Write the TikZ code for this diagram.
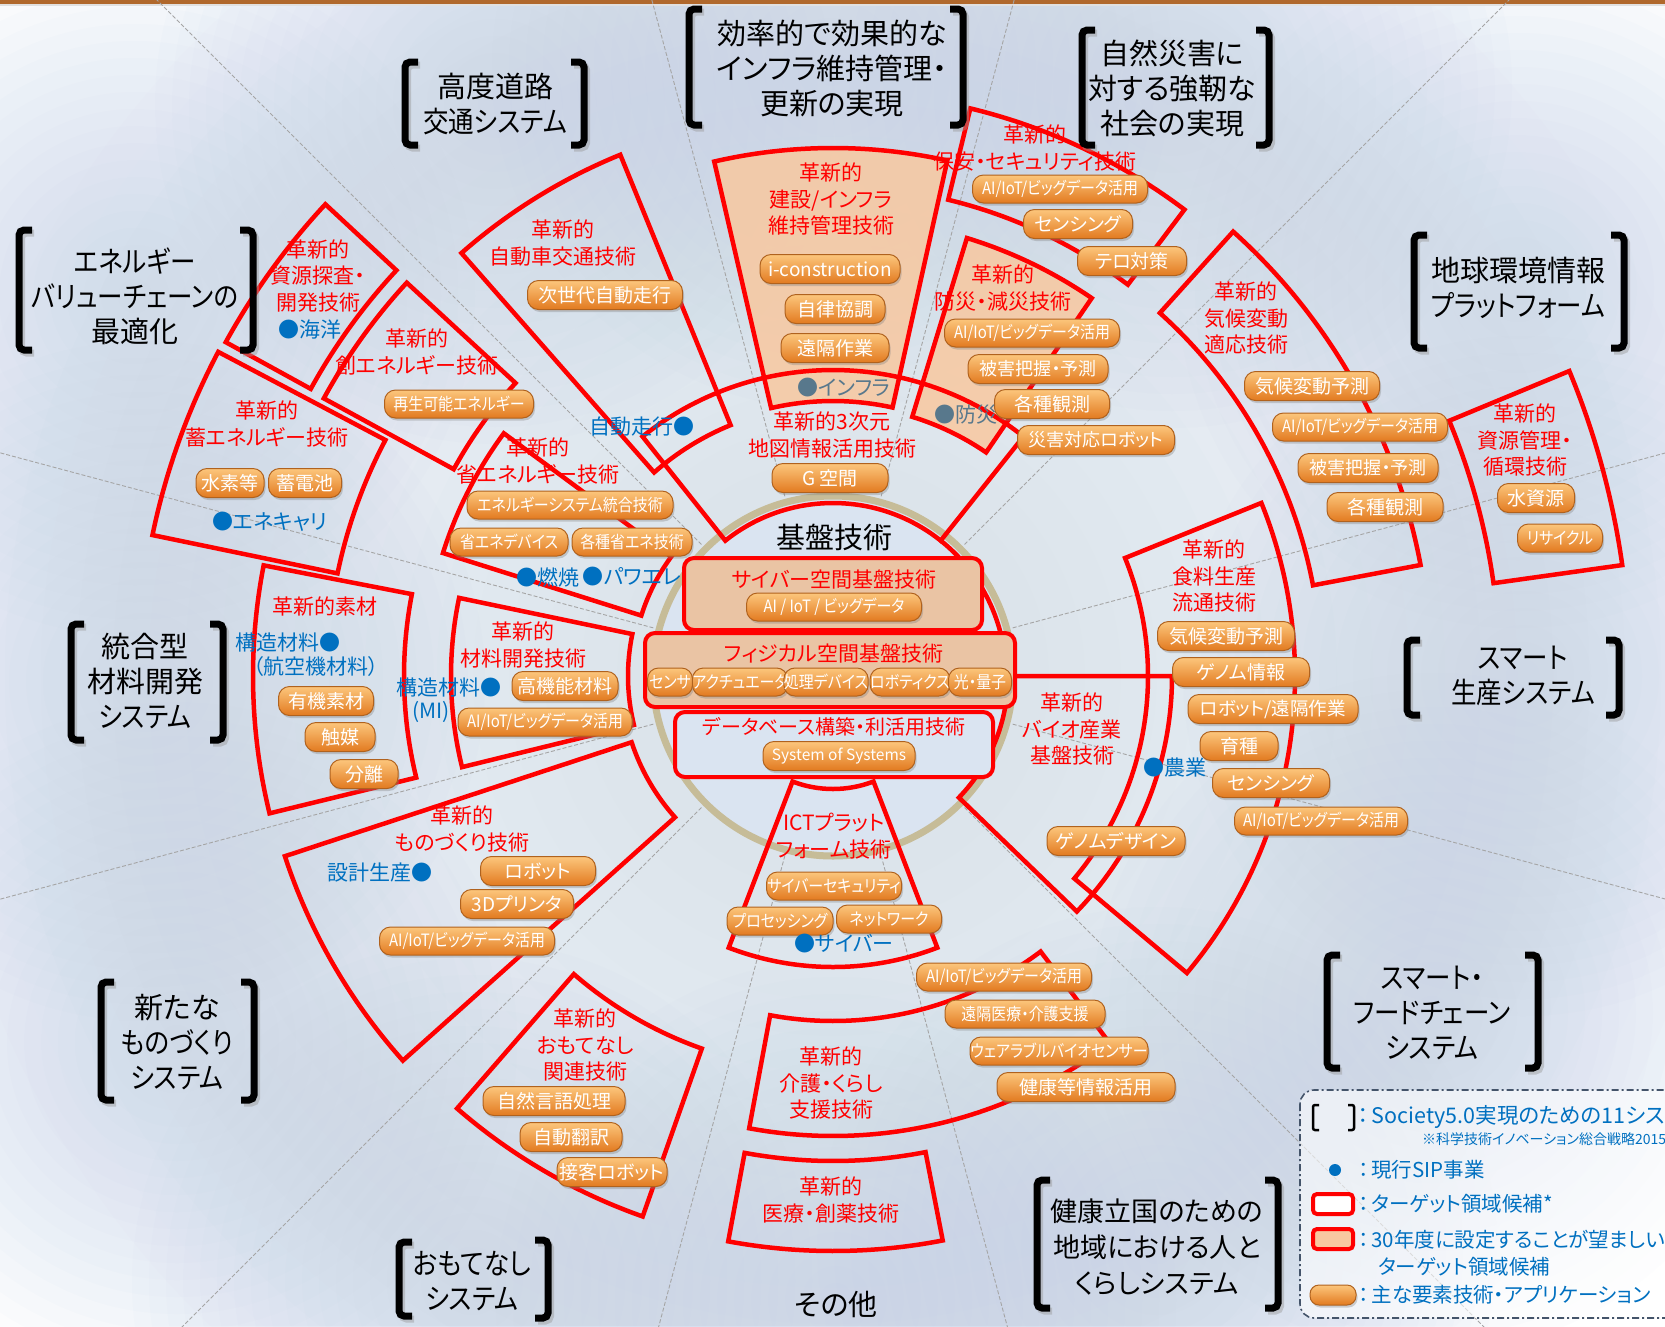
\documentclass[tikz,border=0pt]{standalone}
\usepackage{fontspec}
\setmainfont[RawFeature=+palt]{Noto Sans CJK JP}
\newfontfamily\cjkn[RawFeature=+palt,FakeStretch=0.88]{Noto Sans CJK JP}
\usetikzlibrary{shadows}

\definecolor{sred}{RGB}{255,0,0}
\definecolor{sblue}{RGB}{0,112,192}
\definecolor{glowc}{RGB}{190,206,230}
\definecolor{ringtan}{RGB}{198,188,152}
\definecolor{coreblue}{RGB}{218,228,241}
\definecolor{beigef}{RGB}{248,200,160}
\definecolor{boxbeige}{RGB}{234,196,164}
\definecolor{pilltop}{RGB}{252,198,124}
\definecolor{pillbot}{RGB}{226,122,32}
\definecolor{pillborder}{RGB}{176,98,30}
\definecolor{slate}{RGB}{88,120,140}
\definecolor{topbar}{RGB}{176,104,44}
\definecolor{dashgrey}{RGB}{165,165,165}
\definecolor{legline}{RGB}{68,84,106}

\tikzset{
  redline/.style={draw=sred, line width=4.5pt, line join=miter},
  pill/.style={rounded corners=11pt, draw=pillborder, line width=1pt,
     top color=pilltop, bottom color=pillbot, text=white,
     minimum height=29pt, inner sep=0pt,
     font=\fontsize{19}{19}\selectfont,
     drop shadow={shadow xshift=1.5pt, shadow yshift=-2.5pt, opacity=0.35}},
  spill/.style={pill, font=\cjkn\fontsize{17}{17}\selectfont, minimum height=28pt},
  rl/.style={text=sred, align=center, inner sep=0pt, font=\fontsize{21}{26.5}\selectfont},
  bl/.style={text=sblue, inner sep=0pt, font=\fontsize{21}{26}\selectfont},
  sl/.style={text=slate, inner sep=0pt, font=\fontsize{21}{26}\selectfont},
  sys/.style={align=center, inner sep=0pt, font=\fontsize{29}{35}\selectfont},
  brk/.style={draw=black, line width=7pt, rounded corners=5pt, line cap=butt},
  dashray/.style={draw=dashgrey, line width=0.9pt, dash pattern=on 4pt off 2pt},
  cbox/.style={draw=sred, line width=4pt, rounded corners=10pt},
  lt/.style={text=sblue, anchor=west, inner sep=0pt, font=\fontsize{20.5}{24}\selectfont},
}

\newcommand\annsec[5][]{\draw[shift={(833,676)},#1] (#2:#4) arc[start angle=#2, end angle=#3, radius=#4] -- (#3:#5) arc[start angle=#3, end angle=#2, radius=#5] -- cycle;}
\newcommand\sysLB[3]{%
  \draw[brk, draw=black!40, opacity=0.45] ({#1+15},{#2+3}) -- ({#1+2.5},{#2+3}) -- ({#1+2.5},{#3+3}) -- ({#1+15},{#3+3});
  \draw[brk] ({#1+13},#2) -- (#1,#2) -- (#1,#3) -- ({#1+13},#3);}
\newcommand\sysRB[3]{%
  \draw[brk, draw=black!40, opacity=0.45] ({#1-10},{#2+3}) -- ({#1+2.5},{#2+3}) -- ({#1+2.5},{#3+3}) -- ({#1-10},{#3+3});
  \draw[brk] ({#1-13},#2) -- (#1,#2) -- (#1,#3) -- ({#1-13},#3);}
\newcommand\softglow[3]{\foreach \k in {1,...,20} \fill[glowc, fill opacity=#3] #1 circle ({#2*\k/20});}

\begin{document}
\begin{tikzpicture}[x=1pt,y=-1pt]
\useasboundingbox (0,0) rectangle (1665,1326);
\clip (0,0) rectangle (1665,1326);
\fill[white] (0,0) rectangle (1665,1326);

% background glows (stacked translucent discs)
\foreach \k in {1,...,25} \fill[glowc, fill opacity=0.028] (833,676) circle ({36*\k});
\foreach \p in {(495,104),(832,69),(1172,88),(1518,288),(1523,676),(1432,1013),(1157,1247),(836,1300),(472,1281),(177,1042),(145,681),(135,296)}
  {\softglow{\p}{340}{0.045}}

% top bar
\fill[topbar] (0,0) rectangle (1665,3.5);
\fill[black!12] (0,3.5) rectangle (1665,6);

% radial dashed rays
\foreach \a in {15,45,...,345} \draw[dashray, shift={(833,676)}] (\a:186) -- (\a:1300);

% base circle
\draw[ringtan, line width=7pt, fill=coreblue] (833,676) circle (180);

% translucent fills
\annsec[fill=beigef, fill opacity=0.85, draw=none]{257}{282.5}{275}{528}
\annsec[fill=beigef, fill opacity=0.85, draw=none]{287}{304.4}{271}{458}

% red sector outlines
\annsec[redline]{208.8}{222.9}{596}{693}
\annsec[redline]{208.6}{222.7}{432}{580}
\annsec[redline]{191.7}{207.8}{506}{695}
\annsec[redline]{197.5}{216.4}{201}{409}
\annsec[redline]{228.7}{247.8}{271}{563}
\annsec[redline]{257}{282.5}{275}{528}
\annsec[redline]{231.5}{308.5}{173}{306}
\annsec[redline]{283.6}{307}{490}{584}
\annsec[redline]{287}{304.4}{271}{458}
\annsec[redline]{312}{349.3}{488.5}{598}
\annsec[redline]{337.5}{352}{667}{797}
\annsec[redline]{338}{400}{315}{462}
\annsec[redline]{0}{44}{175}{339}
\annsec[redline]{53}{100.5}{345}{460}
\annsec[redline]{79}{100.5}{485}{575}
\annsec[redline]{109.4}{131}{395}{573}
\annsec[redline]{138.2}{161.8}{212}{577}
\annsec[redline]{166.3}{191}{429}{580}
\annsec[redline]{166.2}{191.8}{205}{382}
\annsec[redline]{69}{111}{113}{291}
\draw[redline, shift={(833,676)}] (308.5:173) arc[start angle=308.5, end angle=360, radius=173];

% centre boxes
\node[sys] (kiban) at (834,537) {基盤技術};
\draw[cbox, fill=boxbeige] (684,558) rectangle (982,630);
\draw[cbox, fill=boxbeige] (645,633) rectangle (1015,707);
\draw[cbox, fill=coreblue] (675,712) rectangle (993,777);
\node[rl] (cyb) at (834,579) {サイバー空間基盤技術};
\node[rl] (phy) at (834,653) {フィジカル空間基盤技術};
\node[rl, font=\fontsize{20}{24}\selectfont] (dbt) at (834,727) {データベース構築・利活用技術};
\node[spill, minimum width=175pt] (pX1) at (834,607) {AI / IoT / ビッグデータ};
\node[spill, minimum width=45pt] (pX2) at (670,682) {センサ};
\node[spill, minimum width=85pt] (pX3) at (740,682) {アクチュエータ};
\node[spill, minimum width=83pt] (pX4) at (826,682) {処理デバイス};
\node[spill, minimum width=74pt] (pX5) at (910,682) {ロボティクス};
\node[spill, minimum width=63pt] (pX6) at (980,682) {光・量子};
\node[pill, minimum width=152pt, font=\fontsize{15.5}{15.5}\selectfont] (pX7) at (839,756) {System of Systems};

% pills
\node[spill, minimum width=149pt] (pB1) at (459,404) {再生可能エネルギー};
\node[pill, minimum width=68pt] (pC1) at (230,483) {水素等};
\node[pill, minimum width=73pt] (pC2) at (305,483) {蓄電池};
\node[spill, minimum width=206pt] (pD1) at (570,505) {エネルギーシステム統合技術};
\node[spill, minimum width=118pt] (pD2) at (509,542) {省エネデバイス};
\node[spill, minimum width=120pt] (pD3) at (632,542) {各種省エネ技術};
\node[pill, minimum width=155pt] (pE1) at (605,295) {次世代自動走行};
\node[pill, minimum width=140pt] (pF1) at (830,269) {i-construction};
\node[pill, minimum width=100pt] (pF2) at (835,309) {自律協調};
\node[pill, minimum width=108pt] (pF3) at (835,348) {遠隔作業};
\node[pill, minimum width=116pt] (pG1) at (830,478) {G 空間};
\node[spill, minimum width=175pt] (pH1) at (1060,189) {AI/IoT/ビッグデータ活用};
\node[pill, minimum width=109pt] (pH2) at (1078,224) {センシング};
\node[pill, minimum width=109pt] (pH3) at (1132,261) {テロ対策};
\node[spill, minimum width=175pt] (pI1) at (1032,333) {AI/IoT/ビッグデータ活用};
\node[pill, minimum width=140pt, font=\fontsize{18}{18}\selectfont] (pI2) at (1038,369) {被害把握・予測};
\node[pill, minimum width=115pt] (pI3) at (1052,404) {各種観測};
\node[pill, minimum width=157pt, font=\fontsize{18}{18}\selectfont] (pI4) at (1096,440) {災害対応ロボット};
\node[pill, minimum width=135pt] (pJ1) at (1312,386) {気候変動予測};
\node[spill, minimum width=175pt] (pJ2) at (1360,427) {AI/IoT/ビッグデータ活用};
\node[pill, minimum width=140pt, font=\fontsize{18}{18}\selectfont] (pJ3) at (1368,468) {被害把握・予測};
\node[pill, minimum width=116pt] (pJ4) at (1385,507) {各種観測};
\node[pill, minimum width=77pt] (pK1) at (1536,498) {水資源};
\node[spill, minimum width=85pt] (pK2) at (1560,538) {リサイクル};
\node[pill, minimum width=137pt] (pL1) at (1226,636) {気候変動予測};
\node[pill, minimum width=137pt] (pL2) at (1241,672) {ゲノム情報};
\node[pill, minimum width=170pt, font=\fontsize{18.5}{18.5}\selectfont] (pL3) at (1273,709) {ロボット/遠隔作業};
\node[pill, minimum width=78pt] (pL4) at (1239,746) {育種};
\node[pill, minimum width=117pt] (pL5) at (1271,783) {センシング};
\node[spill, minimum width=173pt] (pL6) at (1321,821) {AI/IoT/ビッグデータ活用};
\node[pill, minimum width=138pt] (pM1) at (1116,841) {ゲノムデザイン};
\node[spill, minimum width=175pt] (pN1) at (1004,977) {AI/IoT/ビッグデータ活用};
\node[spill, minimum width=160pt] (pN2) at (1025,1014) {遠隔医療・介護支援};
\node[spill, minimum width=178pt] (pN3) at (1059,1051) {ウェアラブルバイオセンサー};
\node[pill, minimum width=178pt] (pN4) at (1086,1087) {健康等情報活用};
\node[pill, minimum width=142pt] (pP1) at (554,1101) {自然言語処理};
\node[pill, minimum width=102pt] (pP2) at (571,1137) {自動翻訳};
\node[pill, minimum width=110pt] (pP3) at (612,1172) {接客ロボット};
\node[pill, minimum width=115pt] (pQ1) at (538,871) {ロボット};
\node[pill, minimum width=113pt] (pQ2) at (517,904) {3Dプリンタ};
\node[spill, minimum width=175pt] (pQ3) at (467,941) {AI/IoT/ビッグデータ活用};
\node[pill, minimum width=95pt] (pR1) at (326,701) {有機素材};
\node[pill, minimum width=70pt] (pR2) at (340,737) {触媒};
\node[pill, minimum width=68pt] (pR3) at (364,774) {分離};
\node[pill, minimum width=106pt] (pS1) at (565,686) {高機能材料};
\node[spill, minimum width=174pt] (pS2) at (545,722) {AI/IoT/ビッグデータ活用};
\node[spill, minimum width=135pt] (pT1) at (834,886) {サイバーセキュリティ};
\node[spill, minimum width=106pt] (pT2) at (780,921) {プロセッシング};
\node[spill, minimum width=105pt] (pT3) at (889,919) {ネットワーク};

% red titles and blue marks
\node[rl] (tA) at (318,276) {革新的\\資源探査・\\開発技術};
\node[bl] (bA) at (310,330) {●海洋};
\node[rl] (tB) at (417,352) {革新的\\創エネルギー技術};
\node[rl] (tC) at (267,424) {革新的\\蓄エネルギー技術};
\node[bl] (bC) at (270,522) {●エネキャリ};
\node[rl] (tD) at (538,461) {革新的\\省エネルギー技術};
\node[bl] (bD1) at (548,577) {●燃焼};
\node[bl] (bD2) at (632,577) {●パワエレ};
\node[rl] (tE) at (563,243) {革新的\\自動車交通技術};
\node[bl] (bE) at (642,427) {自動走行●};
\node[rl] (tF) at (831,199) {革新的\\建設/インフラ\\維持管理技術};
\node[sl] (bF) at (844,388) {●インフラ};
\node[rl] (tG) at (832,435) {革新的3次元\\地図情報活用技術};
\node[rl] (tH) at (1035,148) {革新的\\保安・セキュリティ技術};
\node[rl] (tI) at (1003,288) {革新的\\防災・減災技術};
\node[sl] (bI) at (966,415) {●防災};
\node[rl] (tJ) at (1246,318) {革新的\\気候変動\\適応技術};
\node[rl] (tK) at (1525,440) {革新的\\資源管理・\\循環技術};
\node[rl] (tL) at (1214,576) {革新的\\食料生産\\流通技術};
\node[rl] (tM) at (1072,729) {革新的\\バイオ産業\\基盤技術};
\node[bl] (bM) at (1175,768) {●農業};
\node[rl] (tN) at (831,1083) {革新的\\介護・くらし\\支援技術};
\node[rl] (tO) at (831,1200) {革新的\\医療・創薬技術};
\node[rl] (tP) at (585,1045) {革新的\\おもてなし\\関連技術};
\node[rl] (tQ) at (462,829) {革新的\\ものづくり技術};
\node[bl] (bQ) at (380,873) {設計生産●};
\node[rl] (tR) at (325,607) {革新的素材};
\node[bl] (bR1) at (288,642) {構造材料●};
\node[bl] (bR2) at (316,667) {（航空機材料）};
\node[rl] (tS) at (523,645) {革新的\\材料開発技術};
\node[bl] (bS1) at (449,687) {構造材料●};
\node[bl] (bS2) at (431,712) {(MI)};
\node[rl] (tT) at (834,836) {ICTプラット\\フォーム技術};
\node[bl] (bT) at (844,944) {●サイバー};

% system labels
\node[sys] (s1) at (495,104) {高度道路\\{\cjkn 交通システム}};
\node[sys] (s2) at (832,69) {効率的で効果的な\\インフラ維持管理・\\更新の実現};
\node[sys] (s3) at (1172,88) {自然災害に\\対する強靭な\\社会の実現};
\node[sys] (s4) at (1518,288) {地球環境情報\\{\cjkn プラットフォーム}};
\node[sys] (s5) at (1523,676) {{\cjkn スマート}\\{\cjkn 生産システム}};
\node[sys] (s6) at (1432,1013) {{\cjkn スマート・}\\{\cjkn フードチェーン}\\{\cjkn システム}};
\node[sys, font=\fontsize{27}{36}\selectfont] (s7) at (1157,1247) {健康立国のための\\地域における人と\\くらしシステム};
\node[sys] (s8) at (836,1304) {その他};
\node[sys] (s9) at (472,1281) {{\cjkn おもてなし}\\{\cjkn システム}};
\node[sys] (s10) at (177,1042) {新たな\\{\cjkn ものづくり}\\{\cjkn システム}};
\node[sys] (s11) at (145,681) {統合型\\材料開発\\{\cjkn システム}};
\node[sys] (s12) at (135,296) {{\cjkn エネルギー}\\{\cjkn バリューチェーンの}\\最適化};

% brackets
\sysLB{405}{62}{145}\sysRB{584}{62}{145}
\sysLB{689}{9}{125}\sysRB{963}{9}{125}
\sysLB{1082}{30}{145}\sysRB{1269}{30}{145}
\sysLB{1414}{235}{348}\sysRB{1624}{235}{348}
\sysLB{1407}{640}{715}\sysRB{1619}{640}{715}
\sysLB{1327}{955}{1068}\sysRB{1538}{955}{1068}
\sysLB{1037}{1180}{1308}\sysRB{1278}{1180}{1308}
\sysLB{399}{1242}{1316}\sysRB{548}{1240}{1318}
\sysLB{101}{982}{1100}\sysRB{254}{982}{1100}
\sysLB{71}{624}{740}\sysRB{223}{624}{740}
\sysLB{19}{230}{350}\sysRB{253}{230}{350}

% legend
\draw[legline, line width=1.6pt, dash pattern=on 7pt off 3pt on 2pt off 3pt, rounded corners=14pt, fill=white, fill opacity=0.6] (1300,1090) rectangle (1720,1318);
\draw[black, line width=2.5pt, rounded corners=2pt] (1319,1105) -- (1313,1105) -- (1313,1130) -- (1319,1130);
\draw[black, line width=2.5pt, rounded corners=2pt] (1348,1105) -- (1354,1105) -- (1354,1130) -- (1348,1130);
\node[lt, font=\fontsize{21.5}{26}\selectfont] (lg1) at (1358,1117) {：\hspace{3pt}Society5.0実現のための11システム};
\node[lt, font=\fontsize{14}{14}\selectfont] (lg1b) at (1422,1139) {※科学技術イノベーション総合戦略2015};
\node[circle, fill=sblue, inner sep=0pt, minimum size=12pt] (lgdot) at (1335,1170) {};
\node[lt] (lg2) at (1358,1170) {：\hspace{3pt}現行SIP事業};
\node[draw=sred, line width=4pt, fill=white, rounded corners=4pt, minimum width=40pt, minimum height=20pt] (lgr1) at (1333,1204) {};
\node[lt] (lg3) at (1358,1204) {：\hspace{3pt}ターゲット領域候補*};
\node[draw=sred, line width=4pt, fill=beigef, rounded corners=4pt, minimum width=40pt, minimum height=20pt] (lgr2) at (1333,1239) {};
\node[lt] (lg4) at (1358,1240) {：\hspace{3pt}30年度に設定することが望ましい};
\node[lt] (lg4b) at (1378,1267) {ターゲット領域候補};
\node[pill, minimum width=46pt, minimum height=20pt, rounded corners=9pt] (lgp) at (1333,1295) {};
\node[lt] (lg5) at (1358,1295) {：\hspace{3pt}主な要素技術・アプリケーション};
\end{tikzpicture}
\end{document}
